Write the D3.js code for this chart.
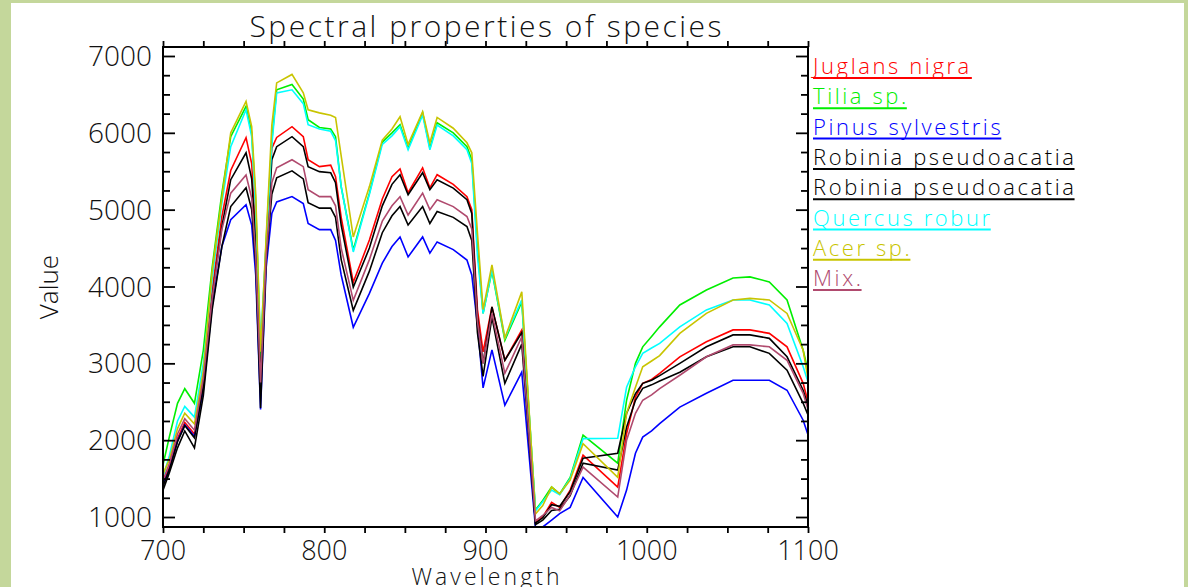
<!DOCTYPE html>
<html lang="en">
<head>
    <meta charset="UTF-8">
    <script type="text/javascript" src="https://d3js.org/d3.v7.min.js"></script>
    <title>Spectral properties of species</title>
    <style>
        body { margin: 0; background: #c4d79b; }
        text { font-family: "Open Sans", "DejaVu Sans", sans-serif; font-weight: 300; }
    </style>
    <script>
        // wavelengths (nm)
        const wavelength = [700, 704, 709, 713.5, 719.5, 725, 730.5, 736.5, 742, 751.5,
            755, 757.5, 760.5, 764, 767.5, 770.5, 780, 787, 790, 797,
            804, 807, 810.5, 818, 828, 836, 842, 847, 852, 861,
            865.5, 870, 880, 888.5, 891.5, 895, 898.5, 904, 912, 922.5,
            931, 935.5, 941, 946, 952.5, 960.5, 982, 987.5, 993, 997.5,
            1003, 1008, 1020.5, 1037, 1053.5, 1064, 1076, 1087, 1097, 1100];

        const juglans = [1440, 1650, 2020, 2230, 2080, 2800, 3950, 4910, 5510, 5937,
            5600, 4700, 2900, 4500, 5800, 5940, 6080, 5950, 5650, 5560,
            5580, 5430, 4900, 4055, 4605, 5140, 5430, 5530, 5220, 5545,
            5285, 5455, 5330, 5170, 5000, 3700, 3150, 3735, 3040, 3435,
            930, 1000, 1190, 1125, 1350, 1805, 1390, 2085, 2560, 2740,
            2790, 2870, 3085, 3280, 3435, 3435, 3390, 3215, 2740, 2500];
        const tilia = [1680, 2050, 2480, 2670, 2480, 3170, 4250, 5215, 5950, 6345,
            6000, 5100, 3050, 4600, 5900, 6560, 6630, 6440, 6170, 6070,
            6050, 5950, 5300, 4475, 5215, 5880, 6000, 6105, 5800, 6260,
            5800, 6130, 6000, 5820, 5650, 4500, 3650, 4200, 3300, 3800,
            1090, 1215, 1390, 1300, 1515, 2065, 1700, 2520, 3000, 3215,
            3350, 3475, 3760, 3955, 4110, 4125, 4060, 3825, 3170, 2900];
        const pinus = [1420, 1620, 1990, 2200, 2050, 2650, 3750, 4520, 4870, 5065,
            4800, 4150, 2400, 4250, 4950, 5100, 5170, 5080, 4820, 4740,
            4740, 4600, 4150, 3470, 3910, 4305, 4520, 4645, 4385, 4645,
            4435, 4580, 4480, 4345, 4150, 3500, 2680, 3175, 2455, 2885,
            860, 870, 960, 1045, 1125, 1515, 1000, 1350, 1830, 2040,
            2120, 2215, 2430, 2610, 2780, 2780, 2780, 2650, 2260, 2070];
        const robinia1 = [1400, 1620, 1980, 2190, 2030, 2700, 3850, 4780, 5390, 5740,
            5400, 4550, 2750, 4450, 5650, 5820, 5950, 5820, 5560, 5495,
            5480, 5350, 4800, 3990, 4500, 5050, 5330, 5455, 5195, 5480,
            5260, 5390, 5280, 5130, 4950, 3600, 3000, 3735, 3040, 3400,
            920, 990, 1160, 1140, 1330, 1765, 1830, 2350, 2605, 2740,
            2780, 2840, 3000, 3215, 3370, 3370, 3325, 3085, 2650, 2450];
        const robinia2 = [1350, 1580, 1900, 2120, 1900, 2580, 3700, 4520, 5040, 5285,
            5000, 4300, 2420, 4350, 5200, 5415, 5505, 5400, 5090, 5020,
            5020, 4900, 4350, 3690, 4200, 4700, 4920, 5040, 4800, 5040,
            4820, 4975, 4900, 4780, 4600, 3400, 2830, 3600, 2740, 3250,
            900, 960, 1085, 1100, 1280, 1700, 1610, 2170, 2520, 2675,
            2720, 2770, 2885, 3085, 3215, 3215, 3130, 2910, 2480, 2330];
        const quercus = [1520, 1800, 2250, 2440, 2300, 3000, 4100, 5085, 5820, 6300,
            5950, 5000, 3250, 4550, 5850, 6520, 6560, 6380, 6105, 6050,
            6020, 5900, 5300, 4450, 5200, 5850, 5960, 6080, 5780, 6230,
            5780, 6100, 5960, 5780, 5600, 4400, 3650, 4215, 3330, 3825,
            1080, 1200, 1350, 1290, 1500, 2020, 2025, 2690, 2955, 3130,
            3200, 3260, 3475, 3695, 3825, 3825, 3760, 3520, 2955, 2760];
        const acer = [1560, 1750, 2150, 2350, 2210, 2900, 4200, 5150, 6000, 6410,
            6080, 5200, 3150, 4650, 6100, 6650, 6760, 6520, 6300, 6260,
            6230, 6200, 5700, 4645, 5300, 5905, 6050, 6210, 5850, 6275,
            5870, 6200, 6060, 5870, 5740, 4700, 3700, 4280, 3330, 3930,
            1040, 1150, 1390, 1300, 1480, 1955, 1515, 2350, 2690, 2955,
            3030, 3100, 3390, 3650, 3825, 3845, 3825, 3650, 3170, 2800];
        const mix = [1480, 1700, 2080, 2280, 2130, 2800, 3850, 4740, 5215, 5450,
            5150, 4400, 2750, 4400, 5350, 5545, 5650, 5560, 5260, 5170,
            5170, 5050, 4500, 3820, 4350, 4850, 5050, 5170, 4930, 5215,
            5000, 5130, 5040, 4910, 4750, 3550, 3000, 3650, 2870, 3345,
            950, 1020, 1125, 1080, 1290, 1650, 1260, 2000, 2350, 2520,
            2590, 2670, 2845, 3085, 3240, 3240, 3215, 3040, 2610, 2400];

        const speciesNames = ["Juglans nigra", "Tilia sp.", "Pinus sylvestris", "Robinia pseudoacatia",
            "Robinia pseudoacatia", "Quercus robur", "Acer sp.", "Mix."];
        const speciesValues = [juglans, tilia, pinus, robinia1, robinia2, quercus, acer, mix];
        const speciesColors = ["#ff0000", "#00ee00", "#0000ff", "#000000", "#000000", "#00ffff", "#c8c400", "#b04a6e"];

        const xTicks = [700, 800, 900, 1000, 1100];
        const yTicks = [1000, 2000, 3000, 4000, 5000, 6000, 7000];

        // plot box in page pixels
        const plot = {left: 163, right: 808, top: 47, bottom: 527};
    </script>
</head>
<body>
    <script>
        const svg = d3.select("body")
            .append("svg")
            .attr("width", 1188)
            .attr("height", 587);

        // green frame with white panel
        svg.append("rect").attr("width", 1188).attr("height", 587).attr("fill", "#c4d79b");
        svg.append("rect").attr("x", 11).attr("y", 3).attr("width", 1173).attr("height", 590).attr("fill", "#fff");

        const x = d3.scaleLinear().domain([700, 1100]).range([plot.left, plot.right]);
        const y = d3.scaleLinear().domain([870, 7117]).range([plot.bottom, plot.top]);

        svg.append("clipPath").attr("id", "clip")
            .append("rect")
            .attr("x", plot.left).attr("y", plot.top)
            .attr("width", plot.right - plot.left).attr("height", plot.bottom - plot.top);

        // spectra
        const line = d3.line()
            .x((d, i) => x(wavelength[i]))
            .y(d => y(d));

        svg.append("g").attr("clip-path", "url(#clip)")
            .selectAll("path")
            .data(speciesValues)
            .join("path")
            .attr("fill", "none")
            .attr("stroke", (d, i) => speciesColors[i])
            .attr("stroke-width", 1.6)
            .attr("d", line);

        // axes: ticks point outward on x, inward on y
        const yMinor = d3.range(1000, 7001, 250);
        const xMinor = d3.range(700, 1101, 25);

        svg.append("g")
            .attr("transform", `translate(${plot.left},0)`)
            .call(d3.axisRight(y).tickValues(yMinor).tickSize(0).tickFormat(""))
            .call(g => g.selectAll(".tick line").attr("x2", d => d % 1000 === 0 ? 12 : 7));
        svg.append("g")
            .attr("transform", `translate(${plot.right},0)`)
            .call(d3.axisLeft(y).tickValues(yMinor).tickSize(0).tickFormat(""))
            .call(g => g.selectAll(".tick line").attr("x2", d => d % 1000 === 0 ? -12 : -7));
        svg.append("g")
            .attr("transform", `translate(0,${plot.bottom})`)
            .call(d3.axisBottom(x).tickValues(xMinor).tickSize(6).tickFormat(""));
        svg.append("g")
            .attr("transform", `translate(0,${plot.top})`)
            .call(d3.axisTop(x).tickValues(xMinor).tickSize(6).tickFormat(""));

        svg.selectAll(".domain").remove();
        svg.selectAll(".tick line").attr("stroke", "#000").attr("stroke-width", 1.8);

        svg.append("rect")
            .attr("x", plot.left).attr("y", plot.top)
            .attr("width", plot.right - plot.left).attr("height", plot.bottom - plot.top)
            .attr("fill", "none").attr("stroke", "#000").attr("stroke-width", 2);

        // tick labels
        svg.append("g").selectAll("text")
            .data(yTicks)
            .join("text")
            .attr("x", plot.left - 11)
            .attr("y", d => y(d) + 10)
            .attr("text-anchor", "end")
            .attr("font-size", 28)
            .attr("fill", "#111")
            .text(d => d);

        svg.append("g").selectAll("text")
            .data(xTicks)
            .join("text")
            .attr("x", d => x(d))
            .attr("y", 560)
            .attr("text-anchor", "middle")
            .attr("font-size", 27)
            .attr("fill", "#111")
            .text(d => d);

        // titles
        svg.append("text")
            .attr("x", (plot.left + plot.right) / 2)
            .attr("y", 37)
            .attr("text-anchor", "middle")
            .attr("font-size", 30)
            .attr("textLength", 472)
            .attr("lengthAdjust", "spacing")
            .attr("fill", "#111")
            .text("Spectral properties of species");

        svg.append("text")
            .attr("x", (plot.left + plot.right) / 2)
            .attr("y", 585)
            .attr("text-anchor", "middle")
            .attr("font-size", 23)
            .attr("textLength", 148)
            .attr("lengthAdjust", "spacing")
            .attr("fill", "#111")
            .text("Wavelength");

        svg.append("text")
            .attr("transform", `translate(58,${(plot.top + plot.bottom) / 2}) rotate(-90)`)
            .attr("text-anchor", "middle")
            .attr("font-size", 26)
            .attr("fill", "#111")
            .text("Value");

        // legend with underlined names
        const legend = svg.append("g").selectAll("g")
            .data(speciesNames)
            .join("g")
            .attr("transform", (d, i) => `translate(813,${74 + i * 30.3})`);

        legend.append("text")
            .attr("font-size", 22)
            .attr("letter-spacing", 2.6)
            .attr("fill", (d, i) => speciesColors[i])
            .text(d => d);

        legend.each(function() {
            const g = d3.select(this);
            const w = g.select("text").node().getBBox().width;
            g.append("line")
                .attr("x1", 0).attr("x2", w - 2)
                .attr("y1", 4).attr("y2", 4)
                .attr("stroke", g.select("text").attr("fill"))
                .attr("stroke-width", 2);
        });
    </script>
</body>
</html>
